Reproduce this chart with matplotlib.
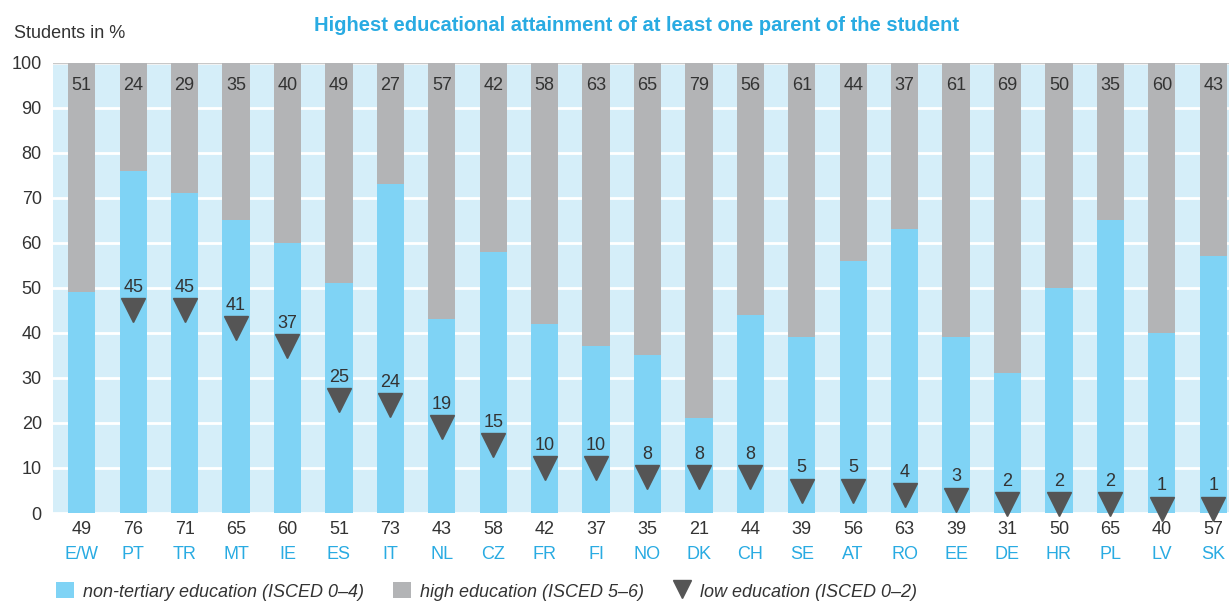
import matplotlib.pyplot as plt
from matplotlib.patches import Patch
from matplotlib.lines import Line2D
import numpy as np

countries = ['E/W', 'PT', 'TR', 'MT', 'IE', 'ES', 'IT', 'NL', 'CZ', 'FR', 'FI', 'NO',
             'DK', 'CH', 'SE', 'AT', 'RO', 'EE', 'DE', 'HR', 'PL', 'LV', 'SK']
non_tertiary = [49, 76, 71, 65, 60, 51, 73, 43, 58, 42, 37, 35, 21, 44, 39, 56, 63, 39, 31, 50, 65, 40, 57]
high_edu = [51, 24, 29, 35, 40, 49, 27, 57, 42, 58, 63, 65, 79, 56, 61, 44, 37, 61, 69, 50, 35, 60, 43]
low_edu = [None, 45, 45, 41, 37, 25, 24, 19, 15, 10, 10, 8, 8, 8, 5, 5, 4, 3, 2, 2, 2, 1, 1]

blue = '#7fd3f5'
grey = '#b3b4b6'
bg = '#d5eef9'
title_blue = '#29abe2'
dark = '#555555'
txt = '#333333'

plt.rcParams['font.family'] = ['Liberation Sans Narrow', 'Liberation Sans', 'DejaVu Sans']

fig = plt.figure(figsize=(12.29, 6.01), dpi=100)
ax = fig.add_axes([0.0431, 0.1464, 0.957, 0.749])
ax.set_facecolor(bg)

x = np.arange(len(countries))
w = 0.53
ax.bar(x, non_tertiary, w, color=blue, zorder=3)
ax.bar(x, high_edu, w, bottom=non_tertiary, color=grey, zorder=3)

for i in x:
    ax.text(i, 95, str(high_edu[i]), ha='center', va='center', fontsize=13, color=txt, zorder=5)
    ax.text(i, -3.6, str(non_tertiary[i]), ha='center', va='center', fontsize=13, color=txt,
            clip_on=False)
    ax.text(i, -9.2, countries[i], ha='center', va='center', fontsize=13, color=title_blue,
            clip_on=False)
    if low_edu[i] is not None:
        ax.plot(i, low_edu[i], marker='v', markersize=17, color=dark, zorder=6, clip_on=False)
        ax.text(i, low_edu[i] + 3.2, str(low_edu[i]), ha='center', va='bottom', fontsize=13,
                color=txt, zorder=6)

ax.set_xlim(-0.56, 22.31)
ax.set_ylim(0, 100)
ax.set_yticks(range(0, 101, 10))
ax.set_xticks([])
ax.yaxis.grid(True, color='white', linewidth=2, zorder=1)
ax.set_axisbelow(True)
ax.tick_params(axis='y', length=0, labelsize=13, labelcolor=txt, pad=8)
for s in ax.spines.values():
    s.set_visible(False)
ax.axhline(100, color='#c8c8c8', linewidth=1, zorder=2)

fig.text(0.011, 0.945, 'Students in %', fontsize=13, color=txt, ha='left', va='center')
fig.text(0.518, 0.958, 'Highest educational attainment of at least one parent of the student',
         fontsize=14.5, color=title_blue, fontweight='bold', ha='center', va='center')

handles = [
    Patch(facecolor=blue, edgecolor='none', label='non-tertiary education (ISCED 0\u20134)'),
    Patch(facecolor=grey, edgecolor='none', label='high education (ISCED 5\u20136)'),
    Line2D([], [], marker='v', linestyle='none', color=dark, markersize=13,
           label='low education (ISCED 0\u20132)'),
]
leg = fig.legend(handles=handles, loc='center left', bbox_to_anchor=(0.032, 0.016), ncol=3,
                 frameon=False, fontsize=13, handlelength=1.0, handleheight=1.0,
                 handletextpad=0.5, columnspacing=1.6)
for t in leg.get_texts():
    t.set_fontstyle('italic')
    t.set_color(txt)

fig.savefig('out.png', dpi=100)
